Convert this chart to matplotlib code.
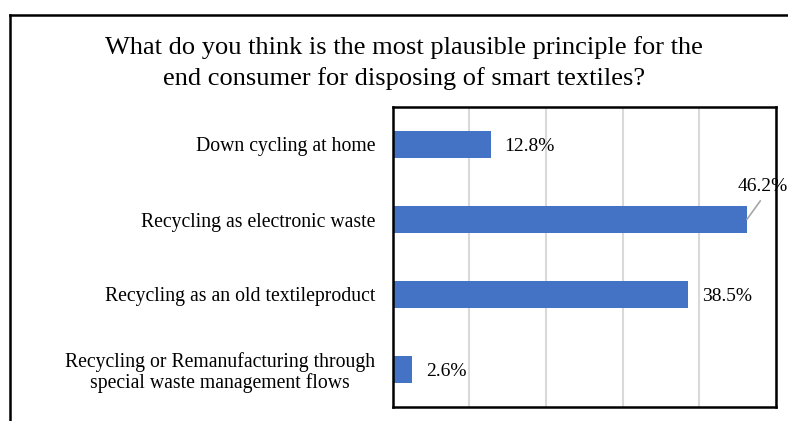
import matplotlib; matplotlib.use('Agg')
import matplotlib.pyplot as plt
from matplotlib.lines import Line2D

plt.rcParams['font.family'] = ['Liberation Serif', 'DejaVu Serif']

categories = ['Down cycling at home',
              'Recycling as electronic waste',
              'Recycling as an old textileproduct',
              'Recycling or Remanufacturing through\nspecial waste management flows']
values = [12.8, 46.2, 38.5, 2.6]
xticks = [0, 10, 20, 30, 40, 50]
title = ('What do you think is the most plausible principle for the\n'
         'end consumer for disposing of smart textiles?')

W, H = 788, 421
fig = plt.figure(figsize=(W / 100, H / 100), dpi=100)
ax = fig.add_axes([392.5 / W, 1 - 407 / H, (776 - 392.5) / W, 300 / H])

y = list(range(len(categories)))
ax.barh(y, values, height=0.35, color='#4472C4', zorder=3)
ax.set_xlim(0, 50)
ax.set_ylim(3.5, -0.5)
ax.set_xticks(xticks)
ax.set_xticklabels([])
ax.tick_params(axis='x', length=0)
ax.tick_params(axis='y', length=0, pad=12.5, labelsize=14.2)
ax.set_yticks(y)
ax.set_yticklabels(categories, multialignment='center', linespacing=1.1)
ax.grid(axis='x', color='#d9d9d9', linewidth=1.5, zorder=0)
for s in ax.spines.values():
    s.set_linewidth(1.8)
    s.set_color('black')
    s.set_zorder(4)

for i, v in enumerate(values):
    lbl = f'{v:.1f}%'
    if v == max(values):
        ax.annotate(lbl, xy=(v, i), xytext=(-7, 24), textcoords='offset points',
                    ha='left', va='center', fontsize=14,
                    arrowprops=dict(arrowstyle='-', color='#a6a6a6', lw=1.2,
                                    shrinkA=3, shrinkB=0,
                                    relpos=(0.55, 0)), annotation_clip=False)
    else:
        ax.annotate(lbl, xy=(v, i), xytext=(10, -1.5), textcoords='offset points',
                    ha='left', va='center', fontsize=14)

fig.text(404 / W, 1 - 63 / H, title, ha='center', va='center', fontsize=19,
         linespacing=1.45)

# outer chart frame (cropped: only top and left edges visible)
fig.add_artist(Line2D([10 / W, 10 / W], [0, 1 - 15 / H], transform=fig.transFigure,
                      color='black', linewidth=1.8))
fig.add_artist(Line2D([10 / W, 1], [1 - 15 / H, 1 - 15 / H], transform=fig.transFigure,
                      color='black', linewidth=1.8))

plt.savefig('out.png', dpi=100)
plt.close()
